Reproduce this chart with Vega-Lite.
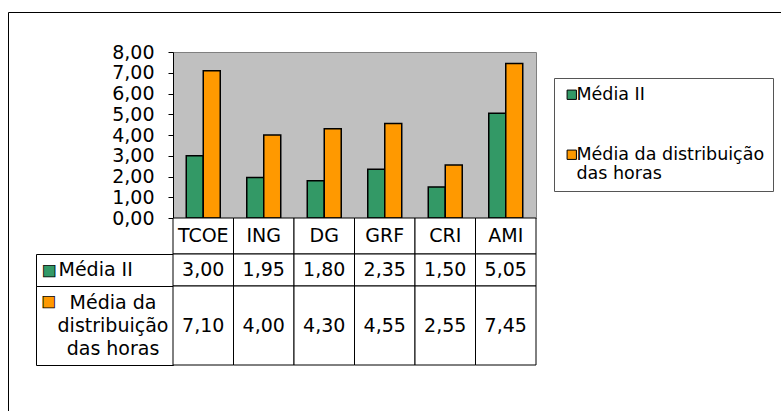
{
  "$schema": "https://vega.github.io/schema/vega-lite/v6.json",
  "padding": {"left": 7, "top": 11, "right": 0, "bottom": 0},
  "datasets": {
    "medias": [
      {"cat": "TCOE", "series": "Média II", "value": 3.00},
      {"cat": "TCOE", "series": "Média da distribuição das horas", "value": 7.10},
      {"cat": "ING", "series": "Média II", "value": 1.95},
      {"cat": "ING", "series": "Média da distribuição das horas", "value": 4.00},
      {"cat": "DG", "series": "Média II", "value": 1.80},
      {"cat": "DG", "series": "Média da distribuição das horas", "value": 4.30},
      {"cat": "GRF", "series": "Média II", "value": 2.35},
      {"cat": "GRF", "series": "Média da distribuição das horas", "value": 4.55},
      {"cat": "CRI", "series": "Média II", "value": 1.50},
      {"cat": "CRI", "series": "Média da distribuição das horas", "value": 2.55},
      {"cat": "AMI", "series": "Média II", "value": 5.05},
      {"cat": "AMI", "series": "Média da distribuição das horas", "value": 7.45}
    ],
    "frame": [{"f": "frame"}]
  },
  "config": {
    "view": {"stroke": null},
    "font": "DejaVu Sans",
    "locale": {"number": {"decimal": ",", "thousands": ".", "grouping": [3], "currency": ["", ""]}},
    "axis": {"labelFont": "DejaVu Sans", "labelFontSize": 19, "labelColor": "black"},
    "text": {"font": "DejaVu Sans", "fontSize": 19, "color": "black"}
  },
  "columns": 2,
  "spacing": 0,
  "bounds": "flush",
  "align": "each",
  "concat": [
    {
      "width": 137, "height": 166,
      "data": {"name": "frame"},
      "mark": {"type": "text", "text": ""},
      "encoding": {
        "opacity": {
          "field": "f", "type": "ordinal",
          "legend": {
            "orient": "none", "legendX": -28, "legendY": -40, "title": null,
            "padding": 420, "strokeColor": "black", "fillColor": null,
            "labelExpr": "''", "symbolOpacity": 0, "symbolSize": 1
          }
        }
      }
    },
    {
      "width": 363, "height": 166,
      "data": {"name": "medias"},
      "view": {"fill": "#c0c0c0", "stroke": "#808080", "strokeWidth": 1},
      "mark": {"type": "bar", "stroke": "black", "strokeWidth": 1.5},
      "encoding": {
        "x": {"field": "cat", "type": "nominal", "sort": ["TCOE", "ING", "DG", "GRF", "CRI", "AMI"],
              "scale": {"paddingInner": 0, "paddingOuter": 0}, "axis": null},
        "xOffset": {"field": "series", "type": "nominal", "sort": ["Média II", "Média da distribuição das horas"],
                    "scale": {"paddingInner": 0, "paddingOuter": 0.78}},
        "y": {"field": "value", "type": "quantitative",
              "scale": {"domain": [0, 8], "nice": false},
              "axis": {"values": [0, 1, 2, 3, 4, 5, 6, 7, 8], "format": ".2f", "grid": false, "title": null,
                       "domainColor": "black", "tickColor": "black", "tickSize": 5, "labelPadding": 14}},
        "color": {
          "field": "series", "type": "nominal",
          "scale": {"domain": ["Média II", "Média da distribuição das horas"], "range": ["#339966", "#FF9900"]},
          "legend": {
            "orient": "none", "legendX": 518, "legendY": 26, "title": null,
            "padding": 8, "strokeColor": "#555555", "fillColor": "white",
            "symbolType": "square", "symbolSize": 87, "symbolStrokeColor": "black", "symbolStrokeWidth": 1,
            "symbolOffset": 1, "labelOffset": -4, "rowPadding": 41,
            "labelFont": "DejaVu Sans", "labelFontSize": 17.5, "labelColor": "black", "labelLimit": 0,
            "labelExpr": "datum.label == 'Média II' ? datum.label : ['Média da distribuição', 'das horas']"
          }
        }
      }
    },
    {
      "width": 137, "height": 36,
      "data": {"name": "frame"},
      "mark": {"type": "text", "text": ""}
    },
    {
      "width": 363, "height": 36,
      "data": {"name": "medias"},
      "transform": [{"filter": "datum.series == 'Média II'"}],
      "encoding": {
        "x": {"field": "cat", "type": "nominal", "sort": ["TCOE", "ING", "DG", "GRF", "CRI", "AMI"],
              "scale": {"paddingInner": 0, "paddingOuter": 0}, "axis": null}
      },
      "layer": [
        {"mark": {"type": "rect", "fill": "white", "stroke": "black", "strokeWidth": 1}},
        {"mark": {"type": "text", "baseline": "middle"}, "encoding": {"text": {"field": "cat"}}}
      ]
    },
    {
      "width": 137, "height": 32,
      "view": {"stroke": "black", "strokeWidth": 1},
      "data": {"name": "medias"},
      "transform": [{"filter": "datum.cat == 'TCOE' && datum.series == 'Média II'"}],
      "layer": [
        {"mark": {"type": "text", "text": "■", "fontSize": 15, "align": "center", "baseline": "middle", "dx": -55.5,
                  "color": "#339966", "stroke": "black", "strokeWidth": 0.8}},
        {"mark": {"type": "text", "align": "left", "baseline": "middle", "dx": -46}, "encoding": {"text": {"field": "series"}}}
      ]
    },
    {
      "width": 363, "height": 32,
      "data": {"name": "medias"},
      "transform": [{"filter": "datum.series == 'Média II'"}],
      "encoding": {
        "x": {"field": "cat", "type": "nominal", "sort": ["TCOE", "ING", "DG", "GRF", "CRI", "AMI"],
              "scale": {"paddingInner": 0, "paddingOuter": 0}, "axis": null}
      },
      "layer": [
        {"mark": {"type": "rect", "fill": "white", "stroke": "black", "strokeWidth": 1}},
        {"mark": {"type": "text", "baseline": "middle"}, "encoding": {"text": {"field": "value", "type": "quantitative", "format": ".2f"}}}
      ]
    },
    {
      "width": 137, "height": 79,
      "view": {"stroke": "black", "strokeWidth": 1},
      "data": {"name": "medias"},
      "transform": [{"filter": "datum.cat == 'TCOE' && datum.series == 'Média da distribuição das horas'"}],
      "layer": [
        {"mark": {"type": "text", "text": "■", "fontSize": 15, "align": "center", "baseline": "middle", "dx": -56, "dy": -25,
                  "color": "#FF9900", "stroke": "black", "strokeWidth": 0.8}},
        {"mark": {"type": "text", "align": "center", "baseline": "middle", "dx": 8.5, "dy": -23, "lineHeight": 23},
         "encoding": {"text": {"value": ["Média da", "distribuição", "das horas"]}}}
      ]
    },
    {
      "width": 363, "height": 79,
      "data": {"name": "medias"},
      "transform": [{"filter": "datum.series == 'Média da distribuição das horas'"}],
      "encoding": {
        "x": {"field": "cat", "type": "nominal", "sort": ["TCOE", "ING", "DG", "GRF", "CRI", "AMI"],
              "scale": {"paddingInner": 0, "paddingOuter": 0}, "axis": null}
      },
      "layer": [
        {"mark": {"type": "rect", "fill": "white", "stroke": "black", "strokeWidth": 1}},
        {"mark": {"type": "text", "baseline": "middle"}, "encoding": {"text": {"field": "value", "type": "quantitative", "format": ".2f"}}}
      ]
    }
  ]
}
